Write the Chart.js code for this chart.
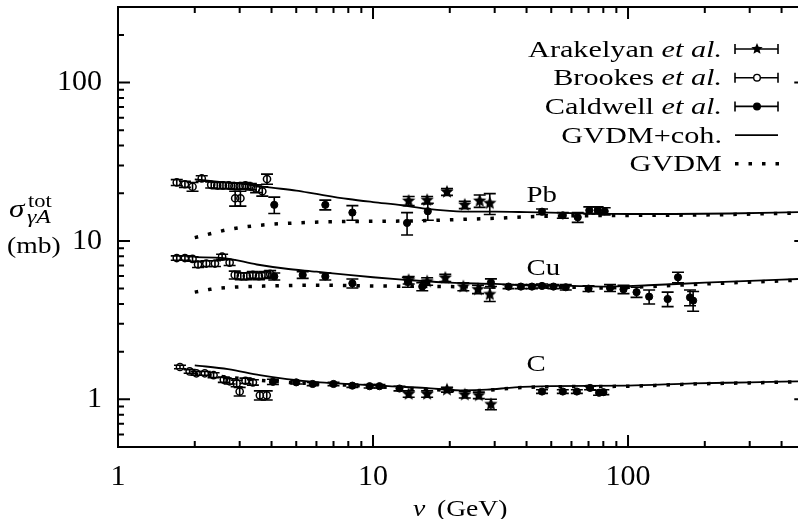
<!DOCTYPE html>
<html>
<head>
<meta charset="utf-8">
<title>Total photoabsorption cross section on nuclei</title>
<script src="https://cdn.jsdelivr.net/npm/chart.js@4.4.1/dist/chart.umd.min.js"></script>
<style>
  html, body { margin: 0; padding: 0; background: #fff; overflow: hidden; }
  canvas { display: block; }
</style>
</head>
<body>
<canvas id="sigma" width="798" height="519"></canvas>
<script>
// values: nu in GeV, sigma in mb

// --- Pb ---
const pbArakNu  = [13.8, 16.3, 19.5, 22.9, 26.2, 28.7];
const pbArakSig = [17.9, 18.1, 20.4, 16.9, 17.9, 17.3];
const pbArakErr = [1.2, 1.0, 1.0, 0.9, 1.6, 2.6];

const pbBrookesNu  = [1.70, 1.83, 1.96, 2.13, 2.32, 2.45, 2.58, 2.72, 2.86, 3.00, 3.16, 3.32, 3.48, 3.68, 3.84, 2.88, 3.02];
const pbBrookesSig = [23.4, 22.8, 22.0, 24.8, 22.6, 22.4, 22.4, 22.4, 22.2, 22.2, 22.4, 22.0, 21.4, 20.6, 24.6, 18.6, 18.6];
const pbBrookesErr = [1.0, 1.0, 1.4, 1.0, 1.0, 1.0, 1.0, 1.0, 1.0, 1.0, 1.0, 1.0, 1.2, 1.4, 1.8, 2.0, 2.0];

const pbCaldNu  = [4.1, 6.5, 8.3, 13.6, 16.4, 46, 55.5, 63.5, 70.5, 76, 81];
const pbCaldSig = [16.9, 16.9, 15.1, 13.0, 15.4, 15.3, 14.5, 14.1, 15.6, 15.6, 15.4];
const pbCaldErr = [2.0, 1.2, 1.6, 2.1, 1.9, 0.6, 0.6, 1.0, 0.8, 0.8, 0.8];

const pbCohNu  = [2, 2.5, 3, 3.5, 4, 5, 6, 8, 10, 13, 16, 20, 25, 30, 40, 60, 100, 150, 250, 464];
const pbCohSig = [24.5, 23.6, 23.0, 22.3, 21.7, 20.8, 19.8, 18.4, 17.6, 16.8, 16.0, 15.5, 15.3, 15.3, 15.2, 15.0, 14.8, 14.8, 14.9, 15.2];
const pbGvdmNu  = [2, 2.3, 2.7, 3.2, 3.9, 5, 6.5, 10, 15, 20, 30, 40, 60, 100, 200, 464];
const pbGvdmSig = [10.5, 11.1, 11.8, 12.3, 12.7, 13.0, 13.2, 13.3, 13.4, 13.6, 13.9, 14.2, 14.4, 14.5, 14.6, 15.0];

// --- Cu ---
const cuArakNu  = [13.8, 16.3, 19.2, 22.6, 25.8, 28.7];
const cuArakSig = [5.65, 5.55, 5.85, 5.15, 4.95, 4.6];
const cuArakErr = [0.3, 0.3, 0.3, 0.3, 0.3, 0.45];

const cuBrookesNu  = [1.70, 1.83, 1.96, 2.06, 2.22, 2.40, 2.56, 2.74, 2.87, 3.03, 3.20, 3.38, 3.57, 3.77, 3.95];
const cuBrookesSig = [7.8, 7.8, 7.7, 7.1, 7.2, 7.2, 7.95, 7.3, 6.1, 6.0, 6.0, 6.1, 6.0, 6.1, 6.2];
const cuBrookesErr = [0.25, 0.25, 0.25, 0.3, 0.3, 0.3, 0.3, 0.3, 0.35, 0.3, 0.3, 0.3, 0.3, 0.3, 0.3];

const cuCaldNu  = [4.1, 5.3, 6.5, 8.3, 13.7, 15.6, 29, 34, 38, 42, 46, 51, 57, 70, 85, 96, 108, 121, 143, 157, 175, 180];
const cuCaldSig = [5.97, 6.1, 5.97, 5.4, 5.5, 5.15, 5.46, 5.15, 5.15, 5.15, 5.2, 5.15, 5.1, 5.0, 5.05, 4.95, 4.75, 4.45, 4.3, 5.9, 4.4, 4.2];
const cuCaldErr = [0.3, 0.3, 0.3, 0.35, 0.4, 0.3, 0.3, 0.15, 0.15, 0.15, 0.15, 0.15, 0.2, 0.2, 0.25, 0.3, 0.35, 0.45, 0.45, 0.45, 0.5, 0.6];

const cuCohNu  = [2, 2.6, 3.5, 4.5, 6, 8, 10, 13, 20, 30, 40, 60, 80, 120, 200, 300, 464];
const cuCohSig = [7.9, 7.8, 7.1, 6.7, 6.4, 6.1, 5.9, 5.7, 5.45, 5.35, 5.25, 5.2, 5.15, 5.25, 5.45, 5.6, 5.75];
const cuGvdmNu  = [2, 2.3, 2.8, 4, 6, 10, 20, 40, 60, 80, 120, 200, 464];
const cuGvdmSig = [4.75, 4.95, 5.1, 5.2, 5.25, 5.2, 5.15, 5.1, 5.1, 5.05, 5.15, 5.35, 5.65];

// --- C ---
const cArakNu  = [13.8, 16.3, 19.5, 22.9, 26.0, 29.0];
const cArakSig = [1.08, 1.08, 1.15, 1.07, 1.06, 0.93];
const cArakErr = [0.05, 0.05, 0.04, 0.05, 0.05, 0.07];

const cBrookesNu  = [1.75, 1.91, 2.03, 2.19, 2.37, 2.60, 2.74, 2.92, 3.00, 3.16, 3.38, 3.60, 3.83];
const cBrookesSig = [1.60, 1.50, 1.46, 1.46, 1.42, 1.33, 1.30, 1.26, 1.12, 1.31, 1.28, 1.06, 1.06];
const cBrookesErr = [0.04, 0.04, 0.04, 0.04, 0.05, 0.05, 0.05, 0.06, 0.07, 0.05, 0.05, 0.07, 0.07];

const cCaldNu  = [4.05, 5.0, 5.8, 7.0, 8.3, 9.7, 10.6, 12.7, 46, 55.5, 63, 71, 77, 80];
const cCaldSig = [1.29, 1.28, 1.25, 1.25, 1.22, 1.21, 1.21, 1.17, 1.12, 1.12, 1.12, 1.18, 1.10, 1.11];
const cCaldErr = [0.05, 0.03, 0.03, 0.03, 0.03, 0.03, 0.03, 0.04, 0.03, 0.03, 0.03, 0.03, 0.04, 0.04];

const cCohNu  = [2, 2.7, 3.6, 4.6, 6.2, 8.9, 11.5, 16, 22, 28, 36, 50, 100, 180, 300, 464];
const cCohSig = [1.64, 1.55, 1.42, 1.34, 1.28, 1.24, 1.21, 1.18, 1.14, 1.15, 1.19, 1.21, 1.22, 1.26, 1.28, 1.30];
const cGvdmNu  = [2, 2.7, 3.6, 4.6, 6.2, 8.9, 11.5, 16, 22, 28, 36, 50, 100, 180, 300, 464];
const cGvdmSig = [1.45, 1.38, 1.32, 1.28, 1.25, 1.22, 1.19, 1.16, 1.13, 1.14, 1.18, 1.20, 1.21, 1.25, 1.27, 1.29];

// axes
const xLabelTicks = [1, 10, 100];
const xMinorTicks = [2, 3, 4, 5, 6, 7, 8, 9, 20, 30, 40, 50, 60, 70, 80, 90, 200, 300, 400];
const yLabelTicks = [1, 10, 100];
const yMinorTicks = [0.6, 0.7, 0.8, 0.9, 2, 3, 4, 5, 6, 7, 8, 9, 20, 30, 40, 50, 60, 70, 80, 90, 200];

// legend and annotation text
const legendNames = ['Arakelyan', 'Brookes', 'Caldwell', 'GVDM+coh.', 'GVDM'];
const legendEtAl  = [true, true, true, false, false];
const targetNames = ['Pb', 'Cu', 'C'];

const SERIF = '"Liberation Serif", "DejaVu Serif", serif';

const pairs = (xs, ys) => xs.map((x, i) => ({ x: x, y: ys[i] }));

const makeStar = (r) => {
    const c = document.createElement('canvas');
    const s = Math.ceil(r * 2 + 2);
    c.width = s;
    c.height = s;
    const g = c.getContext('2d');
    g.beginPath();
    for (let i = 0; i < 10; i++) {
        const rad = i % 2 === 0 ? r : r * 0.45;
        const a = -Math.PI / 2 + i * Math.PI / 5;
        const px = s / 2 + rad * Math.cos(a);
        const py = s / 2 + rad * Math.sin(a);
        if (i === 0) g.moveTo(px, py); else g.lineTo(px, py);
    }
    g.closePath();
    g.fillStyle = '#000';
    g.fill();
    return c;
};
const star = makeStar(7);
const legendStar = makeStar(6);

const arakStyle = { pointStyle: star, pointRadius: 7 };
const brookesStyle = { pointStyle: 'circle', pointRadius: 3.6, pointBorderWidth: 1.5, pointBorderColor: '#000', pointBackgroundColor: 'rgba(0,0,0,0)' };
const caldStyle = { pointStyle: 'circle', pointRadius: 3.6, pointBorderWidth: 1, pointBorderColor: '#000', pointBackgroundColor: '#000' };

const points = (nu, sig, err, style) => Object.assign({ data: pairs(nu, sig), err: err, showLine: false, order: 1 }, style);
const solid = (nu, sig) => ({
    data: pairs(nu, sig), showLine: true, pointRadius: 0, borderColor: '#000', borderWidth: 1.8,
    cubicInterpolationMode: 'monotone', order: 2
});
const dotted = (nu, sig) => ({
    data: pairs(nu, sig), showLine: true, pointRadius: 0, borderColor: '#000', borderWidth: 3.5,
    borderDash: [3.5, 10], borderCapStyle: 'butt', cubicInterpolationMode: 'monotone', order: 2
});

// error bars, drawn underneath the markers
const errorBars = {
    id: 'errorBars',
    beforeDatasetsDraw(chart) {
        const ctx = chart.ctx;
        const yS = chart.scales.y;
        ctx.save();
        ctx.strokeStyle = '#000';
        ctx.lineWidth = 1.6;
        chart.data.datasets.forEach((ds, i) => {
            if (!ds.err) return;
            chart.getDatasetMeta(i).data.forEach((pt, j) => {
                const v = ds.data[j].y;
                const top = yS.getPixelForValue(v + ds.err[j]);
                const bot = yS.getPixelForValue(v - ds.err[j]);
                ctx.beginPath();
                ctx.moveTo(pt.x, top); ctx.lineTo(pt.x, bot);
                ctx.moveTo(pt.x - 6, top); ctx.lineTo(pt.x + 6, top);
                ctx.moveTo(pt.x - 6, bot); ctx.lineTo(pt.x + 6, bot);
                ctx.stroke();
            });
        });
        ctx.restore();
    }
};

// gnuplot style frame with inward ticks on all four sides
const frame = {
    id: 'frame',
    afterDraw(chart) {
        const { ctx, chartArea: a, scales: { x, y } } = chart;
        const xr = x.getPixelForValue(500);
        ctx.save();
        ctx.strokeStyle = '#000';
        ctx.lineWidth = 2;
        ctx.beginPath();
        ctx.moveTo(xr, a.top); ctx.lineTo(a.left, a.top);
        ctx.lineTo(a.left, a.bottom); ctx.lineTo(xr, a.bottom);
        ctx.stroke();

        const xTicks = (vals, len) => vals.forEach(v => {
            const px = x.getPixelForValue(v);
            ctx.moveTo(px, a.bottom); ctx.lineTo(px, a.bottom - len);
            ctx.moveTo(px, a.top); ctx.lineTo(px, a.top + len);
        });
        const yTicks = (vals, len) => vals.forEach(v => {
            const py = y.getPixelForValue(v);
            ctx.moveTo(a.left, py); ctx.lineTo(a.left + len, py);
            ctx.moveTo(xr, py); ctx.lineTo(xr - len, py);
        });
        ctx.beginPath();
        xTicks(xLabelTicks, 12);
        xTicks(xMinorTicks, 6);
        yTicks(yLabelTicks, 12);
        yTicks(yMinorTicks, 6);
        ctx.stroke();
        ctx.restore();
    }
};

// text with mixed upright / italic parts, slightly widened like the TeX fonts
const richText = (ctx, parts, x, y, align, sx) => {
    let w = 0;
    parts.forEach(p => { ctx.font = p[1]; w += ctx.measureText(p[0]).width; });
    ctx.save();
    ctx.translate(x, y);
    ctx.scale(sx, 1);
    let cx = align === 'right' ? -w : 0;
    parts.forEach(p => {
        ctx.font = p[1];
        ctx.fillText(p[0], cx, 0);
        cx += ctx.measureText(p[0]).width;
    });
    ctx.restore();
};

const annotations = {
    id: 'annotations',
    afterDraw(chart) {
        const { ctx, scales: { x, y } } = chart;
        const rm = '24px ' + SERIF;
        const it = 'italic 24px ' + SERIF;
        ctx.save();
        ctx.fillStyle = '#000';
        ctx.strokeStyle = '#000';
        ctx.textAlign = 'left';
        ctx.textBaseline = 'alphabetic';

        // legend, top right
        const textRight = 722, symL = 735, symR = 778, symC = 757;
        legendNames.forEach((name, i) => {
            const cy = 49 + i * 28.7;
            const parts = legendEtAl[i] ? [[name + ' ', rm], ['et al.', it]] : [[name, rm]];
            richText(ctx, parts, textRight, cy + 7.5, 'right', 1.26);
            ctx.beginPath();
            if (i < 3) {
                ctx.lineWidth = 1.6;
                ctx.moveTo(symL, cy); ctx.lineTo(symR, cy);
                ctx.moveTo(symL, cy - 5); ctx.lineTo(symL, cy + 5);
                ctx.moveTo(symR, cy - 5); ctx.lineTo(symR, cy + 5);
                ctx.stroke();
                if (i === 0) {
                    ctx.drawImage(legendStar, symC - legendStar.width / 2, cy - legendStar.height / 2);
                } else {
                    ctx.beginPath();
                    ctx.arc(symC, cy, 3.3, 0, Math.PI * 2);
                    ctx.fillStyle = i === 1 ? '#fff' : '#000';
                    ctx.fill();
                    ctx.lineWidth = 1.4;
                    ctx.stroke();
                    ctx.fillStyle = '#000';
                }
            } else if (i === 3) {
                ctx.lineWidth = 1.8;
                ctx.moveTo(symL, cy); ctx.lineTo(symR, cy);
                ctx.stroke();
            } else {
                ctx.lineWidth = 3.5;
                ctx.setLineDash([3.5, 10]);
                ctx.moveTo(symL, cy); ctx.lineTo(symR + 2, cy);
                ctx.stroke();
                ctx.setLineDash([]);
            }
        });

        // nucleus labels
        const lx = x.getPixelForValue(40);
        richText(ctx, [[targetNames[0], rm]], lx, y.getPixelForValue(17.7), 'left', 1.2);
        richText(ctx, [[targetNames[1], rm]], lx, y.getPixelForValue(6.13), 'left', 1.2);
        richText(ctx, [[targetNames[2], rm]], lx, y.getPixelForValue(1.52), 'left', 1.2);

        // axis titles
        richText(ctx, [['\u03c3', 'italic 26px ' + SERIF]], 9, 217, 'left', 1.2);
        richText(ctx, [['tot', '18px ' + SERIF]], 28, 207, 'left', 1.25);
        richText(ctx, [['\u03b3A', 'italic 19px ' + SERIF]], 27, 223, 'left', 1.25);
        richText(ctx, [['(mb)', rm]], 7, 253, 'left', 1.15);
        richText(ctx, [['\u03bd', it]], 413, 516, 'left', 1.15);
        richText(ctx, [['(GeV)', rm]], 437, 516, 'left', 1.15);
        ctx.restore();
    }
};

// keep the plot box where the reference has it, labels may overhang
const noPadding = (s) => {
    s.paddingTop = 0;
    s.paddingBottom = 0;
    s.paddingLeft = 0;
    s.paddingRight = 0;
};

new Chart(document.getElementById('sigma'), {
    type: 'scatter',
    data: {
        datasets: [
            points(pbArakNu, pbArakSig, pbArakErr, arakStyle),
            points(pbBrookesNu, pbBrookesSig, pbBrookesErr, brookesStyle),
            points(pbCaldNu, pbCaldSig, pbCaldErr, caldStyle),
            points(cuArakNu, cuArakSig, cuArakErr, arakStyle),
            points(cuBrookesNu, cuBrookesSig, cuBrookesErr, brookesStyle),
            points(cuCaldNu, cuCaldSig, cuCaldErr, caldStyle),
            points(cArakNu, cArakSig, cArakErr, arakStyle),
            points(cBrookesNu, cBrookesSig, cBrookesErr, brookesStyle),
            points(cCaldNu, cCaldSig, cCaldErr, caldStyle),
            solid(pbCohNu, pbCohSig),
            dotted(pbGvdmNu, pbGvdmSig),
            solid(cuCohNu, cuCohSig),
            dotted(cuGvdmNu, cuGvdmSig),
            solid(cCohNu, cCohSig),
            dotted(cGvdmNu, cGvdmSig)
        ]
    },
    options: {
        responsive: false,
        animation: false,
        layout: { padding: { top: 7, right: 0, bottom: 0, left: 0 }, autoPadding: false },
        plugins: {
            legend: { display: false },
            tooltip: { enabled: false }
        },
        scales: {
            x: {
                type: 'logarithmic',
                min: 1,
                max: 464,
                border: { display: false },
                grid: { display: false, drawTicks: false },
                afterBuildTicks: (s) => { s.ticks = xLabelTicks.map(v => ({ value: v })); },
                afterFit: (s) => { s.height = 72; noPadding(s); },
                ticks: {
                    padding: 12,
                    maxRotation: 0,
                    color: '#000',
                    font: { family: SERIF, size: 30 },
                    callback: (v) => String(v)
                }
            },
            y: {
                type: 'logarithmic',
                min: 0.5,
                max: 300,
                border: { display: false },
                grid: { display: false, drawTicks: false },
                afterBuildTicks: (s) => { s.ticks = yLabelTicks.map(v => ({ value: v })); },
                afterFit: (s) => { s.width = 118; noPadding(s); },
                ticks: {
                    padding: 16,
                    color: '#000',
                    font: { family: SERIF, size: 30 },
                    callback: (v) => String(v)
                }
            }
        }
    },
    plugins: [errorBars, frame, annotations]
});
</script>
</body>
</html>
